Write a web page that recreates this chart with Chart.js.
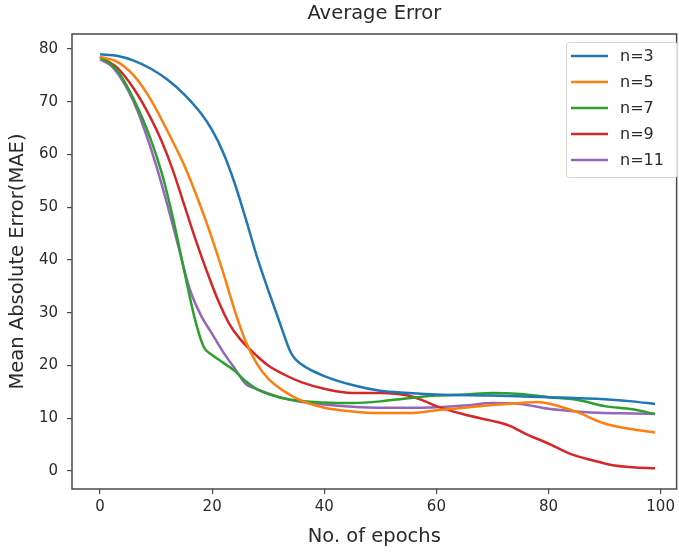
<!DOCTYPE html>
<html>
<head>
<meta charset="utf-8">
<script src="https://cdn.jsdelivr.net/npm/chart.js@4/dist/chart.umd.min.js"></script>
<style>
    html, body { margin: 0; padding: 0; background: #fff; }
    #wrap { width: 679px; height: 552px; }
</style>
</head>
<body>
<div id="wrap"><canvas id="maeChart"></canvas></div>
<script>
// Valores
const chartTitle = "Average Error";
const seriesLabels = ["n=3", "n=5", "n=7", "n=9", "n=11"];
const seriesColors = ["#1f77b4", "#ff7f0e", "#2ca02c", "#d62728", "#9467bd"];

const n3Epochs = [0, 3, 6, 9, 12, 15, 18, 20, 22, 24, 26, 28, 30, 32, 34, 35, 37, 40, 45, 50, 55, 60, 70, 80, 90, 95, 99];
const n3Mae = [79, 78.7, 77.8, 76.3, 74.2, 71.4, 67.8, 64.6, 60.3, 54.6, 47.8, 40.6, 34.3, 28.3, 22.5, 21, 19.5, 18, 16.3, 15.2, 14.8, 14.5, 14.3, 14, 13.6, 13.2, 12.7];

const n5Epochs = [0, 3, 6, 9, 12, 15, 18, 20, 22, 24, 26, 28, 30, 33, 36, 40, 45, 50, 55, 60, 65, 70, 75, 78, 80, 85, 90, 95, 99];
const n5Mae = [78.5, 77.6, 75, 70.5, 64.5, 58, 50, 44, 37.5, 30.5, 24.5, 20.3, 17.5, 15, 13.3, 12, 11.3, 11, 11, 11.5, 12, 12.5, 12.9, 13.1, 12.8, 11.2, 9, 7.9, 7.3];

const n7Epochs = [0, 3, 6, 9, 11, 13, 15, 17, 18.5, 20, 22, 24, 26, 28, 30, 34, 40, 45, 50, 55, 60, 65, 70, 75, 80, 85, 90, 95, 99];
const n7Mae = [78.5, 76, 70.5, 63, 56.5, 48, 38, 28.5, 23.5, 22, 20.5, 19, 17, 15.5, 14.6, 13.5, 13, 12.9, 13.2, 13.8, 14.3, 14.5, 14.8, 14.6, 14, 13.5, 12.3, 11.7, 10.8];

const n9Epochs = [0, 3, 6, 9, 11, 13, 15, 17, 19, 21, 23, 25, 28, 30, 33, 36, 40, 45, 50, 55, 58, 60, 65, 70, 73, 76, 80, 84, 88, 91, 95, 99];
const n9Mae = [78.5, 76.5, 72.5, 67, 62.5, 57, 50.5, 44, 38, 32.5, 28, 25, 21.8, 20, 18.2, 16.8, 15.6, 14.8, 14.8, 14.3, 13.2, 12.3, 10.7, 9.5, 8.6, 7, 5.2, 3.2, 2, 1.2, 0.7, 0.5];

const n11Epochs = [0, 2, 4, 6, 8, 10, 12, 14, 16, 18, 20, 22, 24, 26, 28, 32, 36, 40, 45, 50, 55, 60, 65, 70, 75, 80, 85, 90, 95, 99];
const n11Mae = [78, 76.8, 74, 70, 64.5, 58, 50.5, 42.5, 34.5, 29.5, 26, 22.5, 19.5, 16.5, 15.5, 14, 13.1, 12.6, 12.2, 12, 12, 12.1, 12.4, 12.9, 12.7, 11.8, 11.3, 11, 10.9, 10.8];

const xTickValues = [0, 20, 40, 60, 80, 100];
const yTickValues = [0, 10, 20, 30, 40, 50, 60, 70, 80];

const allEpochs = [n3Epochs, n5Epochs, n7Epochs, n9Epochs, n11Epochs];
const allMae = [n3Mae, n5Mae, n7Mae, n9Mae, n11Mae];

const fontFamily = "'DejaVu Sans', sans-serif";
const textColor = "#2a2a2a";
const spineColor = "#4a4a4a";

// Título centrado sobre los ejes, marco completo y leyenda estilo matplotlib
const framePlugin = {
    id: "frame",
    afterDraw(chart) {
        const { ctx, chartArea: a } = chart;
        ctx.save();
        ctx.strokeStyle = spineColor;
        ctx.lineWidth = 1.5;
        ctx.strokeRect(a.left, a.top, a.right - a.left, a.bottom - a.top);

        ctx.fillStyle = textColor;
        ctx.font = "19.5px " + fontFamily;
        ctx.textAlign = "center";
        ctx.textBaseline = "middle";
        ctx.fillText(chartTitle, (a.left + a.right) / 2, 14);

        // leyenda
        const bx = 566, by = 42, bw = 111, bh = 135;
        ctx.fillStyle = "rgba(255,255,255,0.85)";
        ctx.strokeStyle = "#d6d6d6";
        ctx.lineWidth = 1;
        ctx.beginPath();
        ctx.roundRect(bx + 0.5, by + 0.5, bw, bh, 3);
        ctx.fill();
        ctx.stroke();
        ctx.font = "16px " + fontFamily;
        ctx.textAlign = "left";
        chart.data.datasets.forEach((ds, i) => {
            const y = by + 14 + i * 26;
            ctx.strokeStyle = ds.borderColor;
            ctx.lineWidth = 2.5;
            ctx.beginPath();
            ctx.moveTo(bx + 5, y);
            ctx.lineTo(bx + 42, y);
            ctx.stroke();
            ctx.fillStyle = textColor;
            ctx.fillText(ds.label, bx + 54, y + 1);
        });
        ctx.restore();
    },
};

new Chart(document.getElementById("maeChart").getContext("2d"), {
    type: "line",
    data: {
        datasets: seriesLabels.map((label, i) => ({
            label: label,
            data: allEpochs[i].map((e, j) => ({ x: e, y: allMae[i][j] })),
            borderColor: seriesColors[i],
            backgroundColor: seriesColors[i],
            borderWidth: 2.5,
            pointRadius: 0,
            cubicInterpolationMode: "monotone",
            fill: false,
        })),
    },
    options: {
        responsive: true,
        maintainAspectRatio: false,
        animation: false,
        layout: { padding: { top: 34, right: 2, bottom: 0, left: 0 } },
        plugins: {
            legend: { display: false },
            tooltip: { enabled: false },
            title: { display: false },
        },
        scales: {
            x: {
                type: "linear",
                min: -5,
                max: 102.85,
                afterBuildTicks: (scale) => {
                    scale.ticks = xTickValues.map((v) => ({ value: v }));
                },
                afterFit: (scale) => {
                    scale.height = 63;
                },
                grid: {
                    drawOnChartArea: false,
                    drawTicks: true,
                    tickLength: 5,
                    color: spineColor,
                    lineWidth: 1.2,
                },
                border: { display: false },
                ticks: {
                    color: textColor,
                    padding: 4,
                    maxRotation: 0,
                    font: { family: fontFamily, size: 15 },
                },
                title: {
                    display: true,
                    text: "No. of epochs",
                    color: textColor,
                    font: { family: fontFamily, size: 19.5 },
                    padding: { top: 3, bottom: 3.5 },
                },
            },
            y: {
                min: -3.41,
                max: 82.84,
                afterBuildTicks: (scale) => {
                    scale.ticks = yTickValues.map((v) => ({ value: v }));
                },
                afterFit: (scale) => {
                    scale.width = 72;
                },
                grid: {
                    drawOnChartArea: false,
                    drawTicks: true,
                    tickLength: 5,
                    color: spineColor,
                    lineWidth: 1.2,
                },
                border: { display: false },
                ticks: {
                    color: textColor,
                    padding: 9,
                    font: { family: fontFamily, size: 15 },
                },
                title: {
                    display: true,
                    text: "Mean Absolute Error(MAE)",
                    color: textColor,
                    font: { family: fontFamily, size: 19.5 },
                    padding: { top: 6, bottom: 6 },
                },
            },
        },
    },
    plugins: [framePlugin],
});
</script>
</body>
</html>
